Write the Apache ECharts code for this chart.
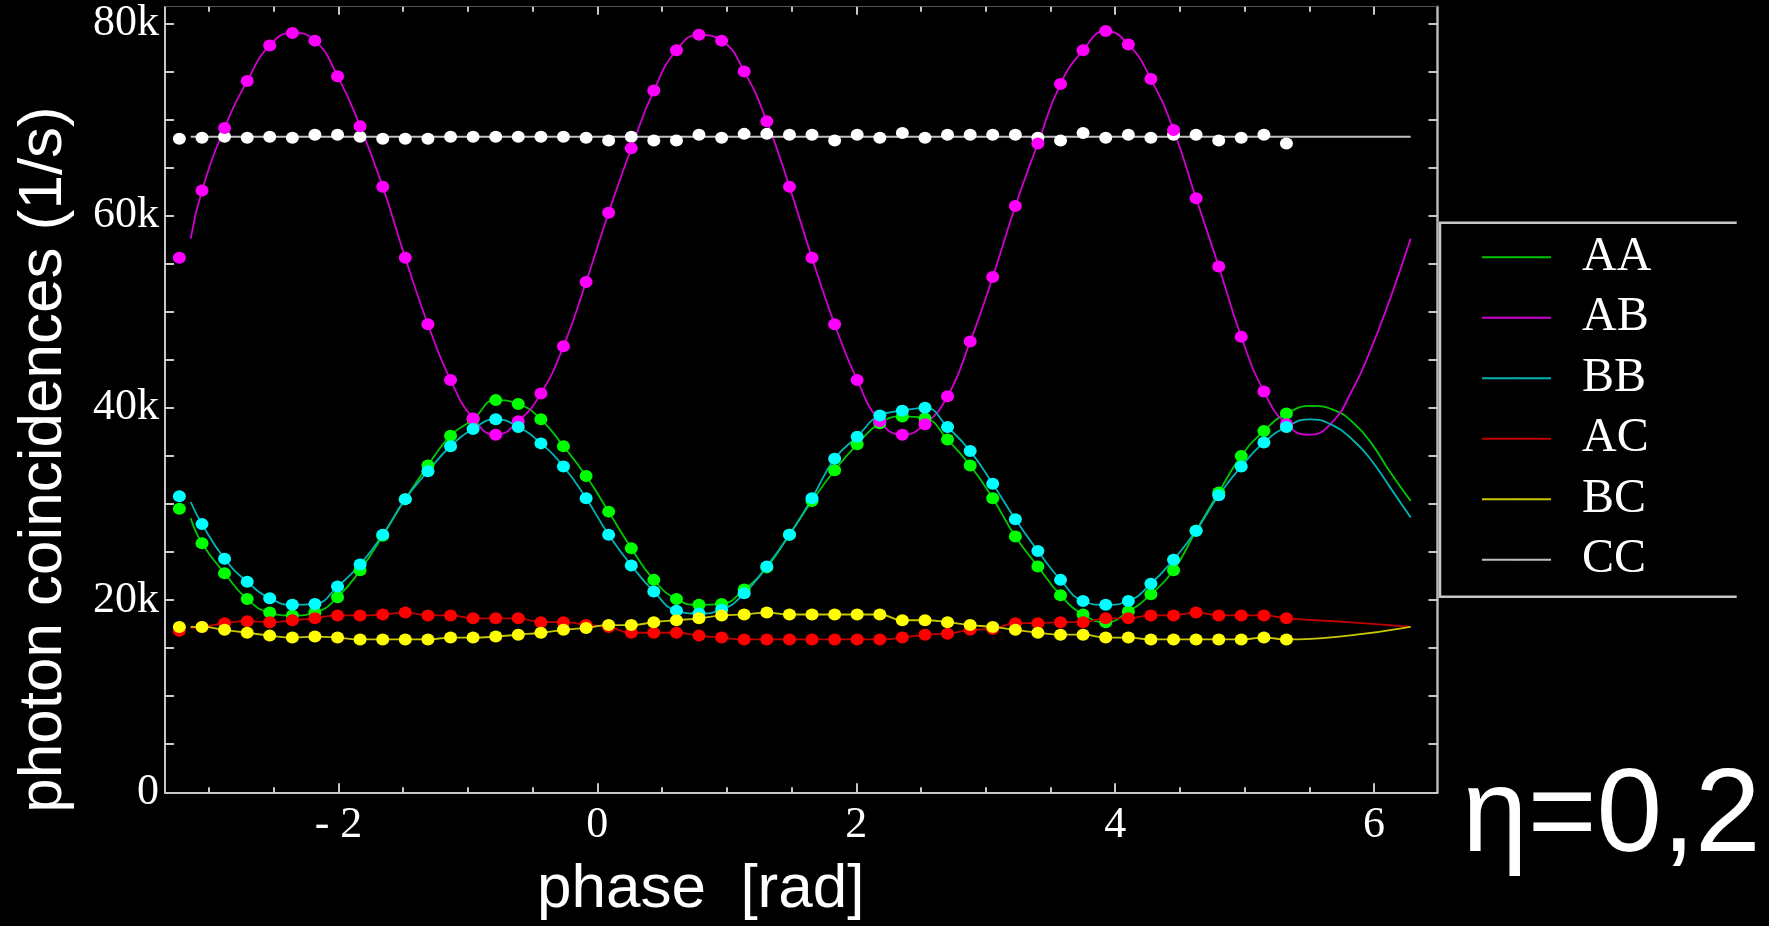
<!DOCTYPE html>
<html>
<head>
<meta charset="utf-8">
<script src="https://cdn.jsdelivr.net/npm/echarts@6/dist/echarts.min.js"></script>
<style>
html, body { margin: 0; padding: 0; background: #000; }
#chart { width: 1769px; height: 926px; }
</style>
</head>
<body>
<div id="chart"></div>
<script>
// measured phase settings [rad]
var phase = [-3.229, -3.054, -2.880, -2.705, -2.531, -2.356, -2.182, -2.007, -1.833, -1.658,
             -1.484, -1.309, -1.134, -0.960, -0.785, -0.611, -0.436, -0.262, -0.087, 0.087,
             0.262, 0.436, 0.611, 0.785, 0.960, 1.134, 1.309, 1.484, 1.658, 1.833,
             2.007, 2.182, 2.356, 2.531, 2.705, 2.880, 3.054, 3.229, 3.403, 3.578,
             3.752, 3.927, 4.102, 4.276, 4.451, 4.625, 4.800, 4.974, 5.149, 5.323];

// coincidences in k/s
var ptsAA = [29.5, 25.9, 22.8, 20.1, 18.7, 18.4, 18.7, 20.3, 23.1, 26.7,
             30.5, 34.0, 37.1, 38.8, 40.8, 40.4, 38.8, 36.0, 32.9, 29.2,
             25.4, 22.1, 20.1, 19.5, 19.6, 21.1, 23.4, 26.8, 30.3, 33.5,
             36.2, 38.4, 39.1, 38.9, 36.7, 34.0, 30.6, 26.6, 23.5, 20.5,
             18.5, 17.7, 18.8, 20.6, 23.1, 27.2, 31.2, 35.0, 37.6, 39.4];
var ptsAB = [55.6, 62.6, 69.1, 74.0, 77.7, 79.0, 78.2, 74.5, 69.3, 63.0,
             55.6, 48.7, 42.9, 38.9, 37.2, 38.6, 41.5, 46.4, 53.1, 60.3,
             67.0, 73.0, 77.2, 78.8, 78.2, 75.0, 69.8, 63.0, 55.6, 48.7,
             42.9, 38.6, 37.2, 38.3, 41.2, 46.9, 53.6, 61.0, 67.5, 73.7,
             77.2, 79.2, 77.8, 74.2, 68.9, 61.8, 54.7, 47.4, 41.7, 38.3];
var ptsBB = [30.8, 27.9, 24.3, 21.9, 20.2, 19.5, 19.6, 21.4, 23.7, 26.8,
             30.5, 33.4, 36.0, 37.8, 38.8, 38.0, 36.3, 33.9, 30.6, 26.8,
             23.6, 20.9, 18.9, 18.6, 19.0, 20.7, 23.5, 26.8, 30.6, 34.7,
             37.0, 39.2, 39.7, 40.0, 38.0, 35.5, 32.1, 28.4, 25.1, 22.1,
             19.9, 19.5, 19.9, 21.7, 24.2, 27.2, 30.9, 33.9, 36.4, 38.0];
var ptsAC = [16.8, 17.2, 17.6, 17.8, 17.7, 17.9, 18.1, 18.4, 18.4, 18.5,
             18.7, 18.4, 18.4, 18.1, 18.1, 18.1, 17.7, 17.7, 17.4, 17.2,
             16.6, 16.6, 16.6, 16.3, 16.1, 15.9, 15.9, 15.9, 15.9, 15.9,
             15.9, 15.9, 16.1, 16.4, 16.5, 16.9, 17.0, 17.6, 17.6, 17.7,
             17.7, 18.1, 18.1, 18.4, 18.4, 18.7, 18.4, 18.4, 18.4, 18.1];
var ptsBC = [17.2, 17.2, 16.9, 16.6, 16.3, 16.1, 16.2, 16.1, 15.9, 15.9,
             15.9, 15.9, 16.1, 16.1, 16.2, 16.4, 16.6, 16.9, 17.1, 17.4,
             17.4, 17.7, 17.9, 18.1, 18.4, 18.5, 18.7, 18.5, 18.5, 18.5,
             18.5, 18.5, 17.9, 17.9, 17.7, 17.4, 17.2, 16.9, 16.6, 16.4,
             16.4, 16.1, 16.1, 15.9, 15.9, 15.9, 15.9, 15.9, 16.1, 15.9];
var ptsCC = [68.0, 68.1, 68.2, 68.1, 68.2, 68.1, 68.4, 68.4, 68.2, 68.0,
             68.0, 68.0, 68.2, 68.2, 68.2, 68.2, 68.2, 68.2, 68.1, 67.8,
             68.2, 67.8, 67.8, 68.4, 68.1, 68.5, 68.5, 68.4, 68.4, 67.8,
             68.4, 68.1, 68.6, 68.1, 68.4, 68.4, 68.4, 68.4, 68.1, 67.8,
             68.6, 68.1, 68.4, 68.1, 68.4, 68.4, 67.8, 68.1, 68.4, 67.5];

// fitted curves: value at -pi, and the part past the last point (up to 2 pi)
var fitStart = -3.1416;
var headAA = 28.5, headAB = 57.6, headBB = 30.2, headAC = 17.1, headBC = 17.2;
var tailAA = [[5.52, 40.2], [5.70, 39.7], [5.85, 38.3], [5.98, 36.3], [6.12, 33.4], [6.283, 30.3]];
var tailAB = [[5.50, 37.2], [5.67, 38.4], [5.83, 41.8], [5.96, 45.6], [6.12, 51.2], [6.283, 57.6]];
var tailBB = [[5.50, 38.8], [5.68, 38.2], [5.84, 36.6], [5.97, 34.7], [6.12, 31.8], [6.283, 28.6]];
var tailAC = [[5.80, 17.7], [6.283, 17.2]];
var tailBC = [[5.80, 16.3], [6.283, 17.2]];
var fitCC = [[-3.1416, 68.2], [6.283, 68.2]];

// axis ticks
var xMajor = [-2, 0, 2, 4, 6];
var xMinor = [-3, -2.5, -1.5, -1, -0.5, 0.5, 1, 1.5, 2.5, 3, 3.5, 4.5, 5, 5.5];
var yMajor = [0, 20, 40, 60, 80];
var yTicks = [0, 5, 10, 15, 20, 25, 30, 35, 40, 45, 50, 55, 60, 65, 70, 75, 80];

var X_MIN = -3.34, X_MAX = 6.49, Y_MAX = 81.73;

function pts(vals) {
    return phase.map(function (x, i) { return [x, vals[i]]; });
}
function fit(head, vals, tail) {
    var d = [[fitStart, head]];
    for (var i = 1; i < phase.length; i++) d.push([phase[i], vals[i]]);
    return d.concat(tail);
}

var lineCol = {AA: '#00c800', AB: '#d000d0', BB: '#00b4b4', AC: '#c00000', BC: '#c8c800', CC: '#c0c0c0'};
var dotCol  = {AA: '#00ff00', AB: '#ff00ff', BB: '#00ffff', AC: '#ff0000', BC: '#ffff00', CC: '#ffffff'};

function lineSeries(name, data) {
    return {
        name: name, type: 'line', data: data, smooth: true,
        symbol: 'none', showSymbol: false, legendIcon: 'rect',
        lineStyle: {color: lineCol[name], width: 1.8},
        itemStyle: {color: lineCol[name]},
        z: 2
    };
}
function dotSeries(name, data) {
    // own name so the legend keeps only the fit lines
    return {
        name: name + ' data', type: 'scatter', data: data, symbol: 'circle', symbolSize: [13, 12],
        itemStyle: {color: dotCol[name], opacity: 1},
        z: 3
    };
}

var chart = echarts.init(document.getElementById('chart'));
var frame = '#c8c8c8';
var serif = 'Liberation Serif';

chart.setOption({
    backgroundColor: '#000',
    animation: false,
    grid: [
        {left: 165, right: 331.5, top: 6.7, bottom: 133.7},
        {left: 165, right: 331.5, top: 6.7, bottom: 133.7}
    ],
    legend: {
        data: ['AA', 'AB', 'BB', 'AC', 'BC', 'CC'],
        orient: 'vertical',
        left: 1481, top: 233.3,
        padding: 0,
        itemWidth: 69, itemHeight: 2, itemGap: 12.5,
        selectedMode: false,
        textStyle: {color: '#fff', fontFamily: serif, fontSize: 48, lineHeight: 48, padding: [0, 0, 0, 26]}
    },
    xAxis: [
        {
            gridIndex: 0, type: 'value', position: 'bottom', min: X_MIN, max: X_MAX,
            axisLine: {show: true, onZero: false, lineStyle: {color: frame, width: 2}},
            axisTick: {show: true, inside: true, length: 9, customValues: xMajor, lineStyle: {color: frame, width: 2}},
            axisLabel: {
                customValues: xMajor, color: '#fff', fontFamily: serif, fontSize: 44, margin: 11,
                formatter: function (v) { return v < 0 ? '- ' + Math.abs(v) : String(v); }
            },
            splitLine: {show: false}
        },
        {
            gridIndex: 0, type: 'value', position: 'top', min: X_MIN, max: X_MAX,
            axisLine: {show: true, onZero: false, lineStyle: {color: '#555', width: 1}},
            axisTick: {show: true, inside: true, length: 8, customValues: xMajor, lineStyle: {color: frame, width: 2}},
            axisLabel: {show: false},
            splitLine: {show: false}
        },
        {
            gridIndex: 1, type: 'value', position: 'bottom', min: X_MIN, max: X_MAX,
            axisLine: {show: false},
            axisTick: {show: true, inside: true, length: 5, customValues: xMinor, lineStyle: {color: frame, width: 2}},
            axisLabel: {show: false},
            splitLine: {show: false}
        },
        {
            gridIndex: 1, type: 'value', position: 'top', min: X_MIN, max: X_MAX,
            axisLine: {show: false},
            axisTick: {show: true, inside: true, length: 5, customValues: xMinor, lineStyle: {color: frame, width: 2}},
            axisLabel: {show: false},
            splitLine: {show: false}
        }
    ],
    yAxis: [
        {
            gridIndex: 0, type: 'value', position: 'left', min: 0, max: Y_MAX,
            axisLine: {show: true, onZero: false, lineStyle: {color: frame, width: 2}},
            axisTick: {show: true, inside: true, length: 9, customValues: yTicks, lineStyle: {color: frame, width: 2}},
            axisLabel: {
                customValues: yMajor, color: '#fff', fontFamily: serif, fontSize: 44, margin: 6,
                formatter: function (v) { return v === 0 ? '0' : v + 'k'; }
            },
            splitLine: {show: false}
        },
        {
            gridIndex: 0, type: 'value', position: 'right', min: 0, max: Y_MAX,
            axisLine: {show: true, onZero: false, lineStyle: {color: '#b8b8b8', width: 2.5}},
            axisTick: {show: true, inside: true, length: 9, customValues: yTicks, lineStyle: {color: frame, width: 2}},
            axisLabel: {show: false},
            splitLine: {show: false}
        },
        {gridIndex: 1, type: 'value', min: 0, max: Y_MAX, show: false}
    ],
    graphic: [
        {
            type: 'polyline', silent: true,
            shape: {points: [[1736.7, 222.7], [1440, 222.7], [1440, 596.7], [1736.7, 596.7]]},
            style: {stroke: frame, lineWidth: 2.5, fill: null}
        },
        {
            type: 'text', x: 44, y: 459.5, rotation: Math.PI / 2,
            style: {text: 'photon coincidences (1/s)', fill: '#fff', font: '62px "Liberation Sans"',
                    textAlign: 'center', textVerticalAlign: 'middle'}
        },
        {
            type: 'text', x: 537, y: 890,
            style: {text: 'phase  [rad]', fill: '#fff', font: '62px "Liberation Sans"',
                    textAlign: 'left', textVerticalAlign: 'middle'}
        },
        {
            type: 'text', x: 1462, y: 818,
            style: {text: 'η=0,2', fill: '#fff', font: '118px "Liberation Sans"',
                    textAlign: 'left', textVerticalAlign: 'middle'}
        }
    ],
    series: [
        lineSeries('AA', fit(headAA, ptsAA, tailAA)),
        lineSeries('AB', fit(headAB, ptsAB, tailAB)),
        lineSeries('BB', fit(headBB, ptsBB, tailBB)),
        lineSeries('AC', fit(headAC, ptsAC, tailAC)),
        lineSeries('BC', fit(headBC, ptsBC, tailBC)),
        lineSeries('CC', fitCC),
        dotSeries('CC', pts(ptsCC)),
        dotSeries('AA', pts(ptsAA)),
        dotSeries('AB', pts(ptsAB)),
        dotSeries('BB', pts(ptsBB)),
        dotSeries('AC', pts(ptsAC)),
        dotSeries('BC', pts(ptsBC))
    ]
});
</script>
</body>
</html>
